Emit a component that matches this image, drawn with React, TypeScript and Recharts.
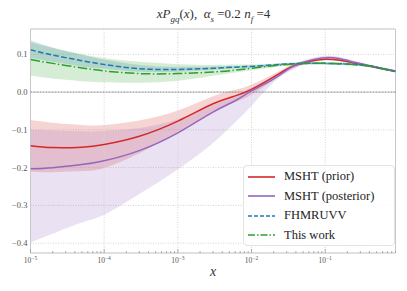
import {
  ComposedChart,
  Area,
  Line,
  XAxis,
  YAxis,
  CartesianGrid,
  ReferenceLine,
  ReferenceArea,
  Legend,
} from 'recharts';

const SERIF = '"Liberation Serif", "DejaVu Serif", serif';

// x grid (log spaced)
const xValues = [1e-5, 2e-5, 5e-5, 1e-4, 3e-4, 1e-3, 3e-3, 6e-3, 1e-2, 2e-2, 3.5e-2, 6e-2, 0.1, 0.16, 0.25, 0.4, 0.6, 0.9];

// MSHT (prior)
const priorCentral = [-0.142, -0.147, -0.146, -0.139, -0.117, -0.077, -0.031, -0.010, 0.007, 0.040, 0.067, 0.081, 0.087, 0.084, 0.077, 0.069, 0.062, 0.055];
const priorLow = [-0.211, -0.212, -0.209, -0.201, -0.162, -0.106, -0.053, -0.026, -0.007, 0.032, 0.061, 0.077, 0.084, 0.081, 0.074, 0.066, 0.059, 0.052];
const priorHigh = [-0.074, -0.081, -0.087, -0.087, -0.075, -0.049, -0.011, 0.006, 0.020, 0.048, 0.073, 0.085, 0.090, 0.087, 0.080, 0.072, 0.065, 0.058];

// MSHT (posterior)
const posteriorCentral = [-0.203, -0.200, -0.192, -0.182, -0.155, -0.108, -0.053, -0.023, 0.003, 0.035, 0.066, 0.083, 0.091, 0.088, 0.079, 0.070, 0.062, 0.055];
const posteriorLow = [-0.398, -0.375, -0.345, -0.325, -0.270, -0.205, -0.135, -0.080, -0.036, 0.026, 0.058, 0.078, 0.086, 0.083, 0.075, 0.067, 0.059, 0.052];
const posteriorHigh = [-0.100, -0.102, -0.104, -0.103, -0.095, -0.072, -0.035, -0.010, 0.012, 0.042, 0.071, 0.088, 0.096, 0.093, 0.083, 0.073, 0.065, 0.058];

// FHMRUVV
const fhmCentral = [0.112, 0.098, 0.083, 0.073, 0.062, 0.060, 0.063, 0.066, 0.068, 0.072, 0.075, 0.076, 0.076, 0.075, 0.073, 0.069, 0.062, 0.055];
const fhmLow = [0.090, 0.080, 0.068, 0.062, 0.054, 0.054, 0.059, 0.063, 0.065, 0.069, 0.072, 0.073, 0.073, 0.072, 0.070, 0.066, 0.059, 0.052];
const fhmHigh = [0.137, 0.118, 0.099, 0.086, 0.072, 0.067, 0.068, 0.069, 0.071, 0.075, 0.078, 0.079, 0.079, 0.078, 0.076, 0.072, 0.065, 0.058];

// This work
const thisCentral = [0.086, 0.076, 0.064, 0.056, 0.049, 0.049, 0.053, 0.058, 0.063, 0.070, 0.074, 0.076, 0.076, 0.075, 0.073, 0.069, 0.062, 0.055];
const thisLow = [0.044, 0.036, 0.029, 0.026, 0.025, 0.030, 0.043, 0.052, 0.058, 0.066, 0.071, 0.073, 0.073, 0.072, 0.070, 0.066, 0.059, 0.052];
const thisHigh = [0.132, 0.117, 0.100, 0.090, 0.080, 0.074, 0.072, 0.073, 0.073, 0.075, 0.077, 0.079, 0.079, 0.078, 0.076, 0.072, 0.065, 0.058];

const majorTicks = [1e-5, 1e-4, 1e-3, 1e-2, 1e-1];
const majorExponents = ['−5', '−4', '−3', '−2', '−1'];
const minorMultipliers = [2, 3, 4, 5, 6, 7, 8, 9];
const yTicks = [-0.4, -0.3, -0.2, -0.1, 0, 0.1];
const yTickLabels = ['−0.4', '−0.3', '−0.2', '−0.1', '0.0', '0.1'];

const X_DOMAIN: [number, number] = [1e-5, 0.9];
const Y_DOMAIN: [number, number] = [-0.426, 0.167];

const minorTicks = majorTicks.flatMap(d => minorMultipliers.map(m => m * d)).filter(v => v <= X_DOMAIN[1]);
const allXTicks = [...majorTicks, ...minorTicks].sort((a, b) => a - b);

const data = xValues.map((x, i) => ({
  x,
  prior: priorCentral[i],
  priorBand: [priorLow[i], priorHigh[i]],
  posterior: posteriorCentral[i],
  posteriorBand: [posteriorLow[i], posteriorHigh[i]],
  fhm: fhmCentral[i],
  fhmBand: [fhmLow[i], fhmHigh[i]],
  thisWork: thisCentral[i],
  thisBand: [thisLow[i], thisHigh[i]],
}));

const COLORS = {
  prior: '#d62728',
  posterior: '#9467bd',
  fhm: '#1f77b4',
  thisWork: '#2ca02c',
};

const legendItems = [
  { label: 'MSHT (prior)', color: COLORS.prior, dash: undefined },
  { label: 'MSHT (posterior)', color: COLORS.posterior, dash: undefined },
  { label: 'FHMRUVV', color: COLORS.fhm, dash: '4 2' },
  { label: 'This work', color: COLORS.thisWork, dash: '7 2 1.5 2' },
];

const XTick = (props: any) => {
  const { x, y, payload } = props;
  const idx = majorTicks.indexOf(payload.value);
  const major = idx >= 0;
  return (
    <g>
      <line x1={x} x2={x} y1={y} y2={y - (major ? 4 : 2)} stroke="#999" strokeWidth={0.8} />
      {major && (
        <text x={x} y={y + 10} textAnchor="middle" fontSize={7.5} fill="#555" fontFamily={SERIF}>
          10<tspan dy={-3} fontSize={5.5}>{majorExponents[idx]}</tspan>
        </text>
      )}
    </g>
  );
};

const YTick = (props: any) => {
  const { x, y, payload } = props;
  const idx = yTicks.indexOf(payload.value);
  return (
    <text x={x} y={y + 3} textAnchor="end" fontSize={8.5} fill="#555" fontFamily={SERIF}>
      {idx >= 0 ? yTickLabels[idx] : payload.value}
    </text>
  );
};

const LegendBox = () => (
  <div
    style={{
      width: 152,
      height: 81,
      boxSizing: 'border-box',
      background: 'rgba(255,255,255,0.85)',
      border: '1px solid #e3e3e3',
      borderRadius: 4,
      paddingTop: 1,
    }}
  >
    {legendItems.map(item => (
      <div key={item.label} style={{ display: 'flex', alignItems: 'center', height: 19.5, fontFamily: SERIF, fontSize: 12.5, color: '#222' }}>
        <svg width={40} height={10} style={{ flexShrink: 0 }}>
          <line x1={4} x2={31} y1={5} y2={5} stroke={item.color} strokeWidth={1.6} strokeDasharray={item.dash} />
        </svg>
        <span style={{ whiteSpace: 'nowrap' }}>{item.label}</span>
      </div>
    ))}
  </div>
);

export default function App() {
  return (
    <div style={{ position: 'absolute', left: 0, top: 0, width: 407, height: 291, background: '#fff' }}>
      <div
        style={{
          position: 'absolute',
          left: 0,
          width: 427,
          top: 4,
          textAlign: 'center',
          fontFamily: SERIF,
          fontSize: 13,
          color: '#333',
          whiteSpace: 'nowrap',
          lineHeight: '20px',
        }}
      >
        <i>xP</i>
        <sub style={{ fontSize: 9 }}><i>gq</i></sub>(<i>x</i>),&nbsp; <i>α</i>
        <sub style={{ fontSize: 9 }}><i>s</i></sub> =0.2 <i>n</i>
        <sub style={{ fontSize: 9 }}><i>f</i></sub> =4
      </div>
      <ComposedChart
        width={407}
        height={291}
        data={data}
        margin={{ top: 29, right: 11.5, bottom: 0, left: 0 }}
      >
        <CartesianGrid vertical={false} stroke="#d4d4d4" strokeDasharray="1 1.5" />
        {majorTicks.slice(1).map(t => (
          <ReferenceLine key={t} x={t} stroke="#d4d4d4" strokeDasharray="1 1.5" />
        ))}
        <XAxis
          dataKey="x"
          type="number"
          scale="log"
          domain={X_DOMAIN}
          ticks={allXTicks}
          interval={0}
          allowDataOverflow
          axisLine={false}
          tickLine={false}
          tickSize={0}
          tickMargin={0}
          height={38}
          tick={<XTick />}
        />
        <YAxis
          type="number"
          domain={Y_DOMAIN}
          ticks={yTicks}
          interval={0}
          allowDataOverflow
          axisLine={false}
          tickLine={false}
          tickSize={0}
          tickMargin={3}
          width={30.5}
          tick={<YTick />}
        />
        <ReferenceLine y={0} stroke="#8a8a8a" strokeDasharray="2 1" strokeWidth={1} />

        <Area dataKey="priorBand" type="natural" stroke="none" fill={COLORS.prior} fillOpacity={0.2} isAnimationActive={false} />
        <Area dataKey="posteriorBand" type="natural" stroke="none" fill={COLORS.posterior} fillOpacity={0.2} isAnimationActive={false} />
        <Area dataKey="fhmBand" type="natural" stroke="none" fill={COLORS.fhm} fillOpacity={0.2} isAnimationActive={false} />
        <Area dataKey="thisBand" type="natural" stroke="none" fill={COLORS.thisWork} fillOpacity={0.2} isAnimationActive={false} />

        <Line dataKey="prior" type="natural" stroke={COLORS.prior} strokeWidth={1.5} dot={false} isAnimationActive={false} />
        <Line dataKey="posterior" type="natural" stroke={COLORS.posterior} strokeWidth={1.5} dot={false} isAnimationActive={false} />
        <Line dataKey="fhm" type="natural" stroke={COLORS.fhm} strokeWidth={1.5} strokeDasharray="5.5 2.4" dot={false} isAnimationActive={false} />
        <Line dataKey="thisWork" type="natural" stroke={COLORS.thisWork} strokeWidth={1.5} strokeDasharray="9.6 2.4 1.5 2.4" dot={false} isAnimationActive={false} />

        <ReferenceArea x1={X_DOMAIN[0]} x2={X_DOMAIN[1]} y1={Y_DOMAIN[0]} y2={Y_DOMAIN[1]} fill="none" stroke="#c8c8c8" strokeWidth={1} />

        <Legend
          layout="vertical"
          align="center"
          verticalAlign="middle"
          content={() => <LegendBox />}
          wrapperStyle={{ left: 243, top: 165, width: 152, height: 81 }}
        />
      </ComposedChart>
      <div
        style={{
          position: 'absolute',
          left: 0,
          width: 426,
          top: 263,
          textAlign: 'center',
          fontFamily: SERIF,
          fontSize: 14,
          fontStyle: 'italic',
          color: '#333',
          lineHeight: '18px',
        }}
      >
        x
      </div>
    </div>
  );
}
